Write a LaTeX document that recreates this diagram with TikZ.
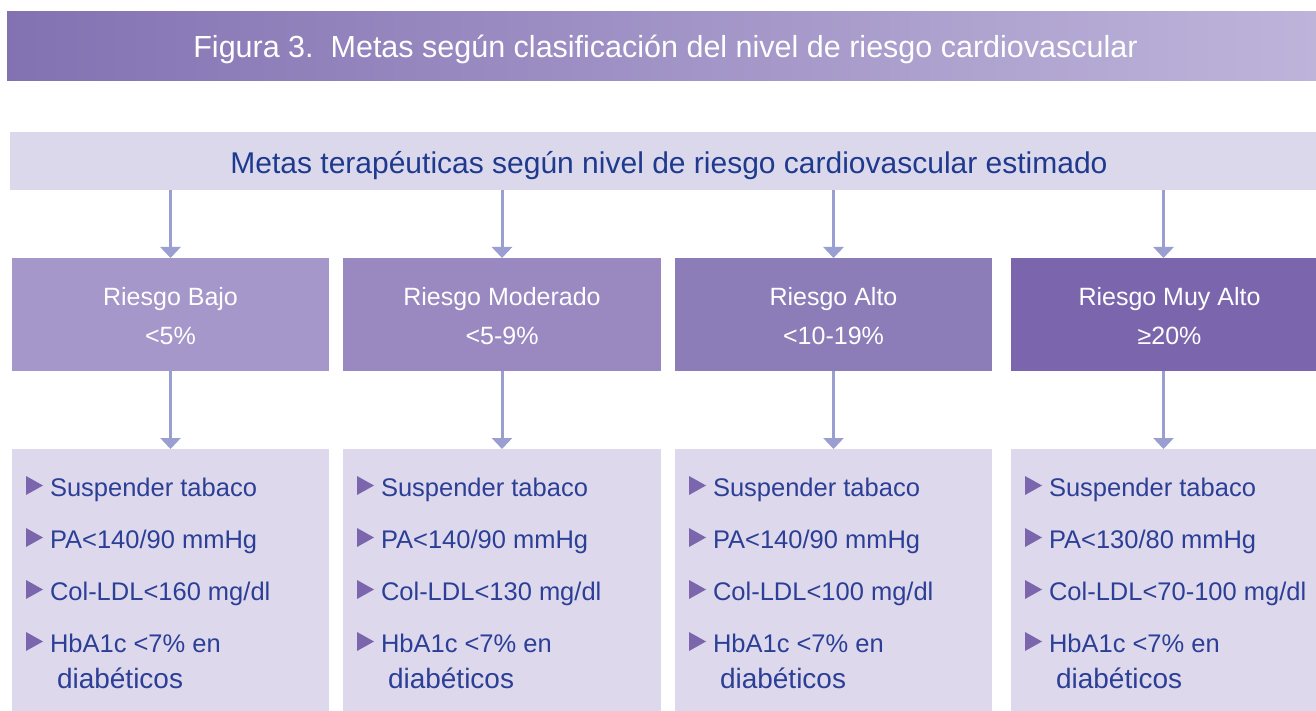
\documentclass[tikz,border=0pt]{standalone}
\usepackage{fontspec}
\setmainfont{Liberation Sans}
\usetikzlibrary{arrows.meta}
\definecolor{titleL}{HTML}{8372B2}
\definecolor{titleR}{HTML}{BEB4DA}
\definecolor{subbg}{HTML}{DCD8EC}
\definecolor{subtxt}{HTML}{1E3A8E}
\definecolor{arrc}{HTML}{9A9ED0}
\definecolor{rA}{HTML}{A597C9}
\definecolor{rB}{HTML}{9A89C0}
\definecolor{rC}{HTML}{8C7DB8}
\definecolor{rD}{HTML}{7B66AD}
\definecolor{lowbg}{HTML}{DDD8EC}
\definecolor{listtxt}{HTML}{2C3F96}
\definecolor{bulc}{HTML}{7B66AD}
\newcommand\itemlist[6]{%
  \foreach \yy/\txt in {-496/{Suspender tabaco},-548/{#3},-600/{#4},-652/{#5}}{
    \fill[bullet] (#2+14,\yy+1) -- (#2+14,\yy+20) -- (#2+31,\yy+10.5) -- cycle;
    \node[itemtxt] at (#2+38,\yy) {\txt};
  }
  \node[itemtxt, font=\fontsize{28}{32}\selectfont] (#1d) at (#2+45,-688) {#6};
}
\begin{document}
\begin{tikzpicture}[x=1pt,y=1pt,
  every node/.style={inner sep=0pt, outer sep=0pt},
  riskbox/.style={anchor=north west, minimum height=113pt, text=white, align=center,
     font=\fontsize{25}{39}\selectfont},
  lowbox/.style={anchor=north west, minimum height=262pt, fill=lowbg},
  arr/.style={draw=arrc, line width=3pt, -{Triangle[width=20pt,length=11pt]}},
  itemtxt/.style={anchor=base west, text=listtxt, font=\fontsize{25.5}{30}\selectfont},
  bullet/.style={fill=bulc}
]
\useasboundingbox (0,0) rectangle (1316,-711);
\fill[white] (0,0) rectangle (1316,-711);

% title bar
\node[anchor=north west, minimum width=1309pt, minimum height=69pt,
      left color=titleL, right color=titleR, text=white,
      text height=23pt, text depth=0pt,
      font=\fontsize{30.5}{36}\selectfont] (title) at (7,-12)
      {\hspace*{8pt}Figura 3.\ \ Metas según clasificación del nivel de riesgo cardiovascular};

% subtitle bar
\node[anchor=north west, minimum width=1306pt, minimum height=58pt, fill=subbg,
      text=subtxt, text height=26pt, text depth=0pt,
      font=\fontsize{30}{36}\selectfont] (sub) at (10,-132)
      {\hspace*{12pt}Metas terapéuticas según nivel de riesgo cardiovascular estimado};

% risk boxes
\node[riskbox, fill=rA, minimum width=317pt] (r1) at (12,-258) {\rule{0pt}{22pt}Riesgo Bajo\\<5\%};
\node[riskbox, fill=rB, minimum width=318pt] (r2) at (343,-258) {\rule{0pt}{22pt}Riesgo Moderado\\<5-9\%};
\node[riskbox, fill=rC, minimum width=317pt] (r3) at (675,-258) {\rule{0pt}{22pt}Riesgo Alto\\<10-19\%};
\node[riskbox, fill=rD, minimum width=305pt] (r4) at (1011,-258) {\rule{0pt}{22pt}\hspace*{12pt}Riesgo Muy Alto\\\hspace*{12pt}≥20\%};

% lower boxes
\node[lowbox, minimum width=317pt] (l1) at (12,-449) {};
\node[lowbox, minimum width=318pt] (l2) at (343,-449) {};
\node[lowbox, minimum width=317pt] (l3) at (675,-449) {};
\node[lowbox, minimum width=305pt] (l4) at (1011,-449) {};

% arrows
\foreach \i in {1,2,3,4}{
  \draw[arr] (sub.south -| r\i.north) -- (r\i.north);
  \draw[arr] (r\i.south) -- (l\i.north);
}

% list items
\itemlist{a}{12}{PA<140/90 mmHg}{Col-LDL<160 mg/dl}{HbA1c <7\% en}{diabéticos}
\itemlist{b}{343}{PA<140/90 mmHg}{Col-LDL<130 mg/dl}{HbA1c <7\% en}{diabéticos}
\itemlist{c}{675}{PA<140/90 mmHg}{Col-LDL<100 mg/dl}{HbA1c <7\% en}{diabéticos}
\itemlist{d}{1011}{PA<130/80 mmHg}{Col-LDL<70-100 mg/dl}{HbA1c <7\% en}{diabéticos}
\end{tikzpicture}
\end{document}
